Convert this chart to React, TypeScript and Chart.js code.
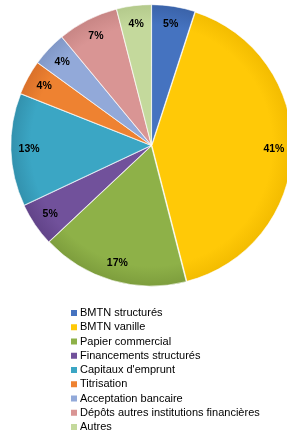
import React, { useEffect, useRef } from "react";
import { Chart, registerables } from "chart.js";

Chart.register(...registerables);

const categories = [
  "BMTN structurés",
  "BMTN vanille",
  "Papier commercial",
  "Financements structurés",
  "Capitaux d'emprunt",
  "Titrisation",
  "Acceptation bancaire",
  "Dépôts autres institutions financières",
  "Autres",
];
const shares = [5, 41, 17, 5, 13, 4, 4, 7, 4];
const colors = [
  "#4573C0",
  "#FFC907",
  "#8EB148",
  "#71519B",
  "#3BA6C4",
  "#EE8231",
  "#92A9D9",
  "#D99594",
  "#C4D99C",
];
const edgeColors = [
  "#3A62A8",
  "#F2BB00",
  "#7C9C3C",
  "#614388",
  "#3290AC",
  "#D9702A",
  "#8097C6",
  "#C78584",
  "#B3C98B",
];

const labelPlugin = {
  id: "pctLabels",
  afterDatasetsDraw(chart: any) {
    const ctx = chart.ctx;
    const meta = chart.getDatasetMeta(0);
    ctx.save();
    ctx.font = "bold 10.5px 'Liberation Sans', Arial, sans-serif";
    ctx.fillStyle = "#000";
    ctx.textAlign = "center";
    ctx.textBaseline = "middle";
    meta.data.forEach((arc: any, i: number) => {
      const p = arc.getProps(["x", "y", "startAngle", "endAngle", "outerRadius"], true);
      const mid = (p.startAngle + p.endAngle) / 2;
      const d = p.outerRadius * 0.875;
      ctx.fillText(shares[i] + "%", p.x + Math.cos(mid) * d, p.y + Math.sin(mid) * d);
    });
    ctx.restore();
  },
};

const legendPlugin = {
  id: "listLegend",
  afterDraw(chart: any) {
    const ctx = chart.ctx;
    ctx.save();
    ctx.font = "11px 'Liberation Sans', Arial, sans-serif";
    ctx.textBaseline = "middle";
    ctx.textAlign = "left";
    categories.forEach((c, i) => {
      const y = 313 + i * 14.25;
      ctx.fillStyle = colors[i];
      ctx.fillRect(71, y - 3, 6, 6);
      ctx.fillStyle = "#000";
      ctx.fillText(c, 80, y);
    });
    ctx.restore();
  },
};

export default function App() {
  const ref = useRef<HTMLCanvasElement>(null);
  useEffect(() => {
    document.body.style.margin = "0";
    const chart = new Chart(ref.current!, {
      type: "pie",
      data: {
        labels: categories,
        datasets: [
          {
            data: shares,
            backgroundColor: (c: any) => {
              const i = c.dataIndex;
              const area = c.chart.chartArea;
              if (!area || i === undefined) return colors[i ?? 0];
              const cx = (area.left + area.right) / 2;
              const cy = (area.top + area.bottom) / 2;
              const r = Math.min(area.right - area.left, area.bottom - area.top) / 2;
              const g = c.chart.ctx.createRadialGradient(cx, cy, 0, cx, cy, r);
              g.addColorStop(0, colors[i]);
              g.addColorStop(0.85, colors[i]);
              g.addColorStop(1, edgeColors[i]);
              return g;
            },
            borderColor: "rgba(255,255,255,0.6)",
            borderWidth: 1,
            offset: 2,
          },
        ],
      },
      options: {
        responsive: false,
        animation: false,
        devicePixelRatio: 1,
        layout: { padding: { left: 10, right: 7, top: 3, bottom: 146 } },
        plugins: {
          legend: { display: false },
          tooltip: { enabled: false },
        },
      },
      plugins: [labelPlugin, legendPlugin],
    });
    return () => chart.destroy();
  }, []);
  return (
    <div style={{ width: 287, height: 434, overflow: "hidden", background: "#fff" }}>
      <canvas ref={ref} width={300} height={434} />
    </div>
  );
}
